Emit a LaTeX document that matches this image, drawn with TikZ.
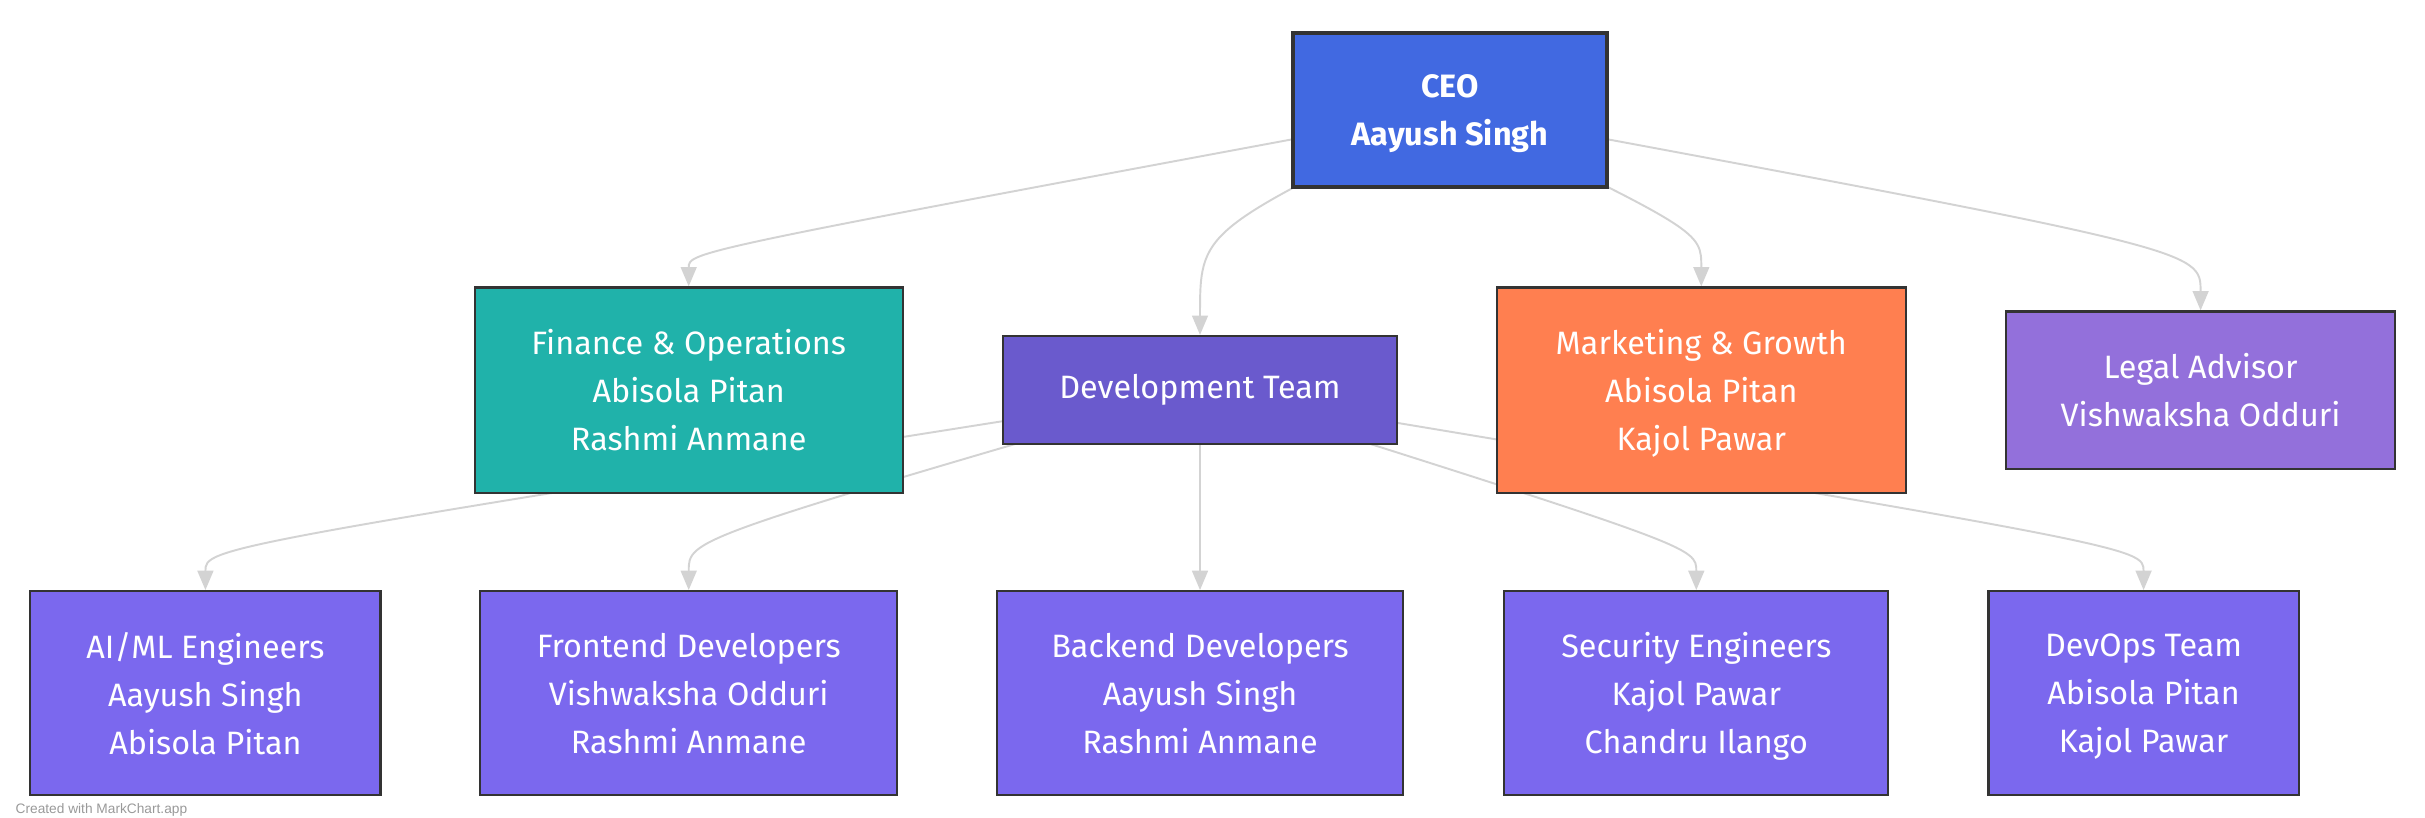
\documentclass[tikz,border=0pt]{standalone}
\usepackage{fontspec}
\setmainfont{Fira Sans}
\newfontfamily\markfont{Liberation Sans}
\usetikzlibrary{arrows.meta,backgrounds,calc}

\definecolor{boxline}{HTML}{333333}
\definecolor{linkgray}{HTML}{D3D3D3}
\definecolor{footgray}{HTML}{999999}
\definecolor{ceoblue}{HTML}{4169E1}
\definecolor{finteal}{HTML}{20B2AA}
\definecolor{devblue}{HTML}{6A5ACD}
\definecolor{mktcoral}{HTML}{FF7F50}
\definecolor{legalpurple}{HTML}{9370DB}
\definecolor{teamblue}{HTML}{7B68EE}

\begin{document}
\begin{tikzpicture}[x=0.01cm, y=-0.01cm,
	box/.style={draw=boxline, line width=0.6pt, text=white, align=center,
		inner sep=0pt, text depth=0pt, font=\fontsize{9.2}{13.66}\selectfont},
	team/.style={box, fill=teamblue, minimum height=2.04cm},
	link/.style={draw=linkgray, line width=0.55pt,
		-{Triangle[length=5.5pt, width=4.5pt]}}]
	\useasboundingbox (0,0) rectangle (2425,817);
	% top
	\node[box, fill=ceoblue, line width=1pt, minimum width=3.14cm, minimum height=1.54cm,
		font=\bfseries\fontsize{9.2}{13.66}\selectfont] (ceo) at (1450,110) {CEO\\Aayush Singh};
	% second row
	\node[box, fill=devblue, minimum width=3.93cm, minimum height=1.08cm, text depth=2pt] (dev)
		at (1200,390) {Development Team};
	\node[box, fill=finteal, minimum width=4.28cm, minimum height=2.05cm] (fin)
		[left of=dev, node distance=5.11cm] {Finance \& Operations\\Abisola Pitan\\Rashmi Anmane};
	\node[box, fill=mktcoral, minimum width=4.09cm, minimum height=2.05cm] (mkt)
		[right of=dev, node distance=5.01cm] {Marketing \& Growth\\Abisola Pitan\\Kajol Pawar};
	\node[box, fill=legalpurple, minimum width=3.89cm, minimum height=1.57cm] (legal)
		[right of=mkt, node distance=4.99cm] {Legal Advisor\\Vishwaksha Odduri};
	% teams
	\node[team, minimum width=4.05cm] (back) [below of=dev, node distance=3.03cm]
		{Backend Developers\\Aayush Singh\\Rashmi Anmane};
	\node[team, minimum width=4.17cm] (front) [below of=fin, node distance=3.03cm]
		{Frontend Developers\\Vishwaksha Odduri\\Rashmi Anmane};
	\node[team, minimum width=3.50cm] (ai) [left of=front, node distance=4.83cm]
		{AI/ML Engineers\\Aayush Singh\\Abisola Pitan};
	\node[team, minimum width=3.84cm] (sec) [right of=back, node distance=4.96cm]
		{Security Engineers\\Kajol Pawar\\Chandru Ilango};
	\node[team, minimum width=3.10cm] (devops) [right of=sec, node distance=4.47cm]
		{DevOps Team\\Abisola Pitan\\Kajol Pawar};
	% links
	\begin{scope}[on background layer]
		\draw[link] (ceo.center) .. controls ($(fin.north)+(0,-35)$) .. (fin.north);
		\draw[link] (ceo.center) .. controls ($(dev.north)+(0,-104)$) .. (dev.north);
		\draw[link] (ceo.center) .. controls ($(mkt.north)+(0,-55)$) .. (mkt.north);
		\draw[link] (ceo.center) .. controls ($(legal.north)+(0,-61)$) .. (legal.north);
		\draw[link] (dev.center) .. controls ($(ai.north)+(0,-43)$) .. (ai.north);
		\draw[link] (dev.center) .. controls ($(front.north)+(0,-51)$) .. (front.north);
		\draw[link] (dev.center) -- (back.north);
		\draw[link] (dev.center) .. controls ($(sec.north)+(0,-43)$) .. (sec.north);
		\draw[link] (dev.center) .. controls ($(devops.north)+(0,-43)$) .. (devops.north);
	\end{scope}
	\node[anchor=base west, inner sep=0pt, text=footgray,
		font=\markfont\fontsize{3.9}{4.7}\selectfont] (credit) at (15,813) {Created with MarkChart.app};
\end{tikzpicture}
\end{document}
